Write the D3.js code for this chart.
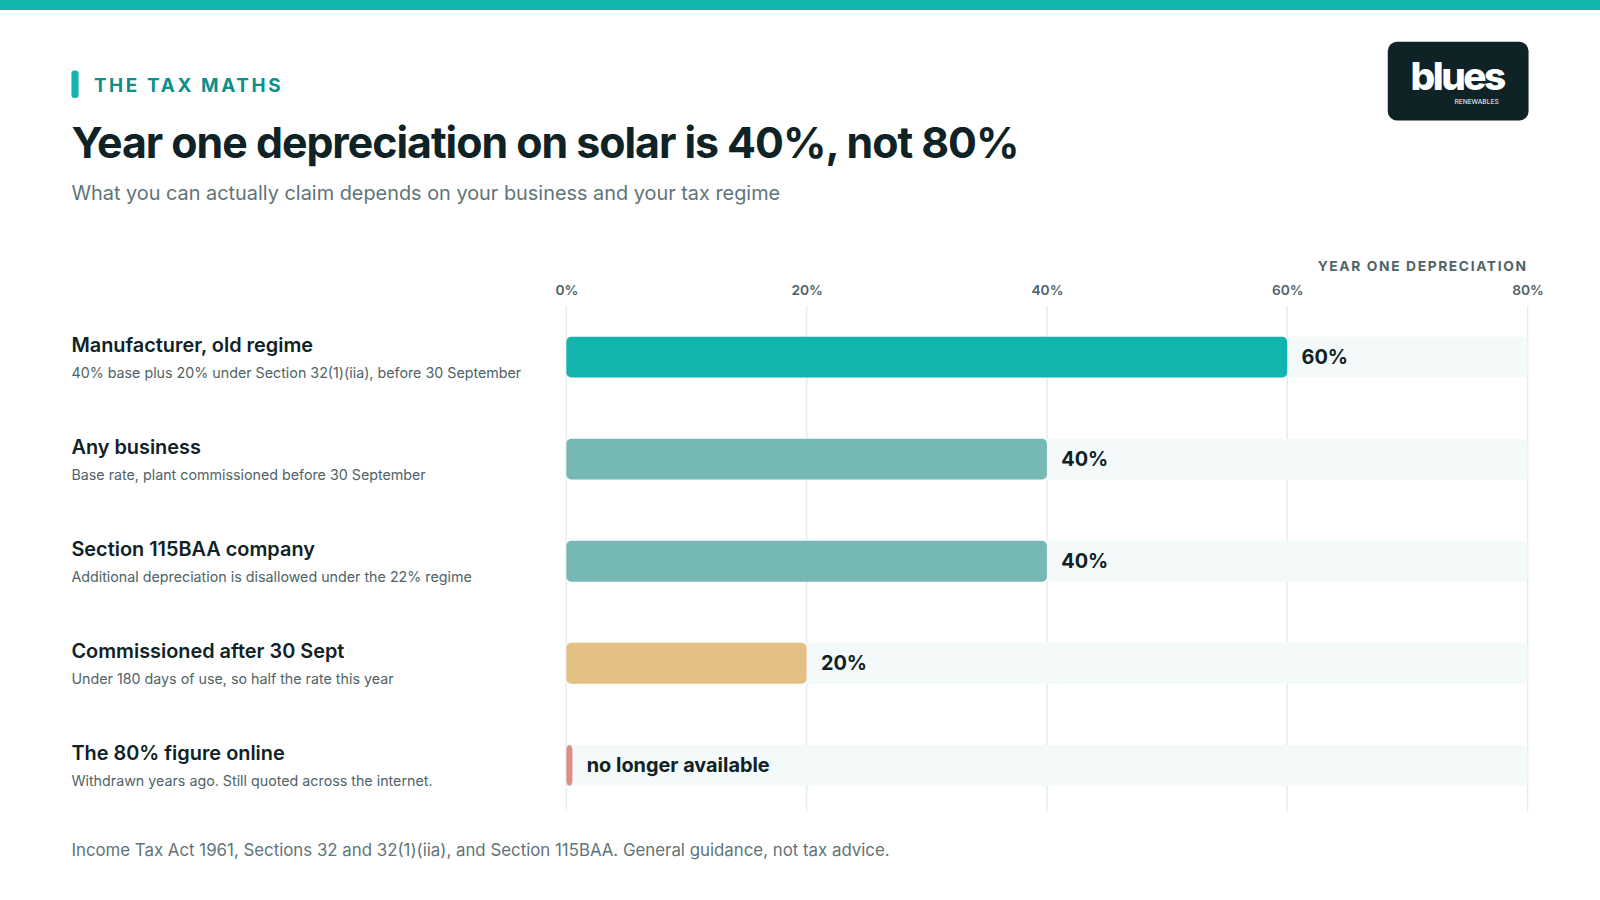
<!DOCTYPE html>
<html><head><meta charset="utf-8">
<script src="https://cdn.jsdelivr.net/npm/d3@7"></script>
<style>
body{margin:0;background:#fff;font-family:Inter,"Noto Sans",sans-serif;}
</style></head>
<body><svg id="chart" width="1600" height="900"></svg>
<script>
const categories = ["Manufacturer, old regime", "Any business", "Section 115BAA company", "Commissioned after 30 Sept", "The 80% figure online"];
const notes = ["40% base plus 20% under Section 32(1)(iia), before 30 September", "Base rate, plant commissioned before 30 September", "Additional depreciation is disallowed under the 22% regime", "Under 180 days of use, so half the rate this year", "Withdrawn years ago. Still quoted across the internet."];
const values = [60, 40, 40, 20, 0];
const valueLabels = ["60%", "40%", "40%", "20%", "no longer available"];
const barColors = ["#13b3ae", "#76b8b4", "#76b8b4", "#e5c084", "#dd8f84"];
const ticks = [0, 20, 40, 60, 80];

const root = d3.select("#chart");
root.append("rect").attr("width", 1600).attr("height", 10).attr("fill", "#13b3ae");
// layout measured at 1568 px wide, scaled up to 1600
const svg = root.append("g").attr("transform", "scale(" + (1600 / 1568) + ")");
const dark = "#0f2226";

// header
svg.append("rect").attr("x", 70).attr("y", 69).attr("width", 7).attr("height", 27).attr("rx", 3).attr("fill", "#13b3ae");
svg.append("text").attr("x", 92).attr("y", 90).text("THE TAX MATHS")
  .attr("fill", "#0f8f8a").attr("font-size", 18.5).attr("font-weight", 700).attr("letter-spacing", 2.6);
svg.append("text").attr("x", 70).attr("y", 155).text("Year one depreciation on solar is 40%, not 80%")
  .attr("fill", dark).attr("font-size", 42).attr("font-weight", 700).attr("letter-spacing", -1);
svg.append("text").attr("x", 70).attr("y", 196).text("What you can actually claim depends on your business and your tax regime")
  .attr("fill", "#5f7479").attr("font-size", 19.5);

// logo
svg.append("rect").attr("x", 1360).attr("y", 41).attr("width", 138).attr("height", 77).attr("rx", 9).attr("fill", "#0f2226");
svg.append("text").attr("x", 1428).attr("y", 88).attr("text-anchor", "middle").text("blues")
  .attr("fill", "#fff").attr("font-size", 38).attr("font-weight", 800).attr("letter-spacing", -2.5);
svg.append("text").attr("x", 1447).attr("y", 102).attr("text-anchor", "middle").text("RENEWABLES")
  .attr("fill", "#fff").attr("font-size", 6.5);

// chart
const x = d3.scaleLinear().domain([0, 80]).range([555, 1497]);
const y = d3.scaleBand().domain(categories).range([300, 800]).paddingInner(0.6).paddingOuter(0.3);

svg.append("text").attr("x", 1497).attr("y", 266).attr("text-anchor", "end").text("YEAR ONE DEPRECIATION")
  .attr("fill", "#4f6368").attr("font-size", 13.5).attr("font-weight", 700).attr("letter-spacing", 1.6);

const axis = svg.append("g").attr("transform", "translate(0,292)")
  .call(d3.axisTop(x).tickValues(ticks).tickFormat(d => d + "%").tickSize(0));
axis.select(".domain").remove();
axis.selectAll("text").attr("fill", "#4f6368").attr("font-size", 13.5).attr("font-weight", 600).attr("font-family", "Inter");

svg.selectAll(".grid").data(ticks).enter().append("line")
  .attr("x1", d => x(d)).attr("x2", d => x(d)).attr("y1", 300).attr("y2", 795)
  .attr("stroke", "#e3eeed").attr("stroke-width", 1.5);

const rows = svg.selectAll(".row").data(categories).enter().append("g");

rows.append("rect").attr("x", x(0)).attr("y", d => y(d)).attr("width", x(80) - x(0)).attr("height", y.bandwidth())
  .attr("rx", 5).attr("fill", "#f4f9f9");
rows.append("rect").attr("x", x(0)).attr("y", d => y(d))
  .attr("width", (d, i) => Math.max(6, x(values[i]) - x(0))).attr("height", y.bandwidth())
  .attr("rx", 5).attr("fill", (d, i) => barColors[i]);
rows.append("text").attr("x", (d, i) => Math.max(x(0) + 6, x(values[i])) + 14).attr("y", d => y(d) + y.bandwidth() / 2 + 7)
  .text((d, i) => valueLabels[i]).attr("fill", dark).attr("font-size", 19.5).attr("font-weight", 700);

rows.append("text").attr("x", 70).attr("y", d => y(d) + 15).text(d => d)
  .attr("fill", dark).attr("font-size", 19.5).attr("font-weight", 600);
rows.append("text").attr("x", 70).attr("y", d => y(d) + 40).text((d, i) => notes[i])
  .attr("fill", "#4f6368").attr("font-size", 14);

svg.append("text").attr("x", 70).attr("y", 839).text("Income Tax Act 1961, Sections 32 and 32(1)(iia), and Section 115BAA. General guidance, not tax advice.")
  .attr("fill", "#5f7479").attr("font-size", 16.5);
</script></body></html>
